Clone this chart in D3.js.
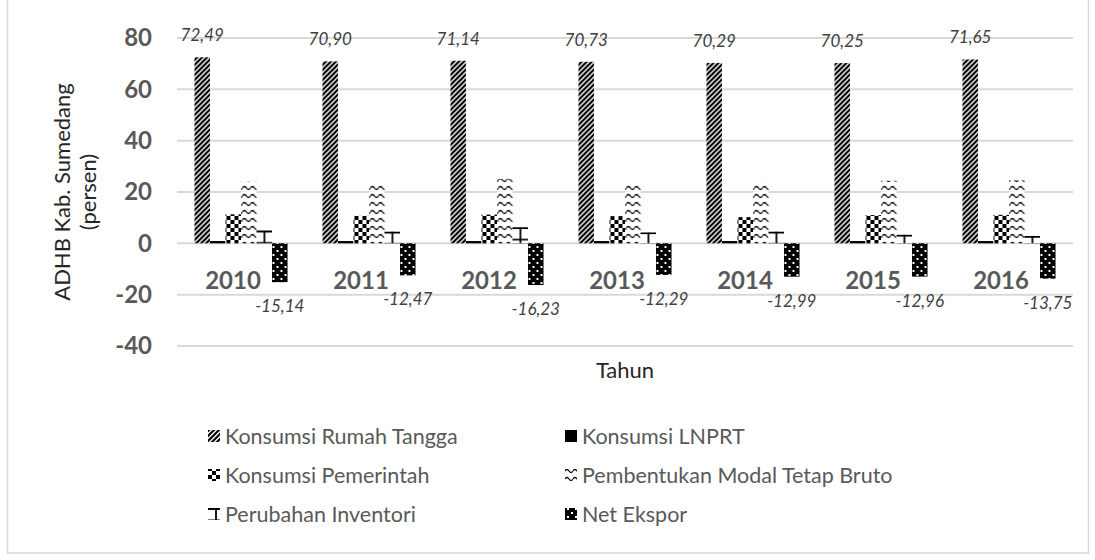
<!DOCTYPE html>
<html>
<head>
<meta charset="utf-8">
<script src="https://cdn.jsdelivr.net/npm/d3@7"></script>
<style>
  body { margin: 0; background: #fff; }
  svg { display: block; font-family: Lato, "Liberation Sans", sans-serif; }
</style>
</head>
<body>
<div id="vis"></div>
<script>
// data
const years = ["2010", "2011", "2012", "2013", "2014", "2015", "2016"];
const seriesNames = ["Konsumsi Rumah Tangga", "Konsumsi LNPRT", "Konsumsi Pemerintah",
  "Pembentukan Modal Tetap Bruto", "Perubahan Inventori", "Net Ekspor"];
const rumahTangga = [72.49, 70.90, 71.14, 70.73, 70.29, 70.25, 71.65];
const lnprt = [0.9, 0.9, 0.9, 0.9, 0.9, 0.9, 0.9];
const pemerintah = [11.3, 10.7, 11.2, 10.6, 10.2, 11.0, 11.1];
const pmtb = [24.0, 23.6, 25.1, 23.4, 23.9, 24.4, 24.6];
const inventori = [5.0, 4.6, 6.3, 4.3, 4.6, 3.4, 2.9];
const netEkspor = [-15.14, -12.47, -16.23, -12.29, -12.99, -12.96, -13.75];
const yTicks = [80, 60, 40, 20, 0, -20, -40];

const values = [rumahTangga, lnprt, pemerintah, pmtb, inventori, netEkspor];
const fills = ["url(#p-rt)", "#000", "url(#p-pem)", "url(#p-pmtb)", "url(#p-inv)", "url(#p-net)"];
const labelled = [0, 5];   // series that carry data labels

const width = 1095, height = 560;

const svg = d3.select("#vis").append("svg")
    .attr("width", width)
    .attr("height", height);

// fill patterns, mimicking the excel pattern fills
const defs = svg.append("defs");

const pRt = defs.append("pattern").attr("id", "p-rt")
    .attr("patternUnits", "userSpaceOnUse").attr("width", 5).attr("height", 5);
pRt.append("rect").attr("width", 5).attr("height", 5).attr("fill", "#fff");
pRt.append("path").attr("d", "M-1,1 l2,-2 M0,5 l5,-5 M4,6 l2,-2")
    .attr("stroke", "#000").attr("stroke-width", 2.2);

const pPem = defs.append("pattern").attr("id", "p-pem")
    .attr("patternUnits", "userSpaceOnUse").attr("width", 8).attr("height", 8);
pPem.append("rect").attr("width", 8).attr("height", 8).attr("fill", "#fff");
pPem.append("rect").attr("width", 4).attr("height", 4).attr("fill", "#000");
pPem.append("rect").attr("x", 4).attr("y", 4).attr("width", 4).attr("height", 4).attr("fill", "#000");

const pPmtb = defs.append("pattern").attr("id", "p-pmtb")
    .attr("patternUnits", "userSpaceOnUse").attr("width", 8).attr("height", 8);
pPmtb.append("rect").attr("width", 8).attr("height", 8).attr("fill", "#fff");
pPmtb.append("path").attr("d", "M0,4 q2,-3 4,0 t4,0")
    .attr("fill", "none").attr("stroke", "#000").attr("stroke-width", 1.3);

// large grid, one tile per bar so the lines start at the top of each bar
const pInv = defs.append("pattern").attr("id", "p-inv")
    .attr("patternUnits", "objectBoundingBox")
    .attr("x", 0).attr("y", 0).attr("width", 1).attr("height", 1);
pInv.append("rect").attr("width", 40).attr("height", 200).attr("fill", "#fff");
pInv.append("path").attr("d", "M0,1 H40 M0,12.5 H40 M0,24.5 H40 M8,0 V200")
    .attr("stroke", "#000").attr("stroke-width", 1.8);

const pNet = defs.append("pattern").attr("id", "p-net")
    .attr("patternUnits", "userSpaceOnUse").attr("width", 8).attr("height", 8);
pNet.append("rect").attr("width", 8).attr("height", 8).attr("fill", "#000");
pNet.append("rect").attr("x", 2).attr("y", 2).attr("width", 2).attr("height", 2).attr("fill", "#fff");
pNet.append("rect").attr("x", 6).attr("y", 6).attr("width", 2).attr("height", 2).attr("fill", "#fff");

// outer chart border
svg.append("rect")
    .attr("x", 7.5).attr("y", -5)
    .attr("width", 1081).attr("height", 558)
    .attr("fill", "none").attr("stroke", "#d9d9d9").attr("stroke-width", 1.5);

// scales
const x0 = d3.scaleBand().domain(years).range([177, 1073])
    .paddingInner(0.273).paddingOuter(0.1365);
const x1 = d3.scaleBand().domain(d3.range(seriesNames.length)).range([0, x0.bandwidth()]);
const y = d3.scaleLinear().domain([-40, 80]).range([346, 38]);

const fmt = v => v.toFixed(2).replace(".", ",");

// gridlines
svg.append("g")
  .selectAll("line")
  .data(yTicks)
  .join("line")
    .attr("x1", 177).attr("x2", 1073)
    .attr("y1", d => y(d)).attr("y2", d => y(d))
    .attr("stroke", "#d9d9d9").attr("stroke-width", 2);

// y axis labels
const yAxis = svg.append("g")
    .attr("transform", "translate(152,0)")
    .call(d3.axisLeft(y).tickValues(yTicks).tickSize(0).tickPadding(0).tickFormat(d => String(d)));
yAxis.select(".domain").remove();
yAxis.selectAll("text")
    .attr("font-family", "Lato, sans-serif")
    .attr("font-size", 24).attr("font-weight", "bold").attr("fill", "#595959");

// year labels, sitting just under the zero line
svg.append("g")
  .selectAll("text")
  .data(years)
  .join("text")
    .attr("x", d => x0(d) + x0.bandwidth() / 2 - 8)
    .attr("y", 281)
    .attr("dy", "0.35em")
    .attr("text-anchor", "middle")
    .attr("font-size", 24).attr("font-weight", "bold").attr("fill", "#595959")
    .text(d => d);

// bars
const group = svg.append("g")
  .selectAll("g")
  .data(years)
  .join("g")
    .attr("transform", d => `translate(${x0(d)},0)`);

group.selectAll("rect")
  .data((d, i) => values.map((s, k) => ({ k: k, v: s[i] })))
  .join("rect")
    .attr("x", d => x1(d.k))
    .attr("y", d => y(Math.max(0, d.v)))
    .attr("width", x1.bandwidth())
    .attr("height", d => Math.abs(y(d.v) - y(0)))
    .attr("fill", d => fills[d.k]);

// data labels for household consumption and net export
group.selectAll("text")
  .data((d, i) => labelled.map(k => ({ k: k, v: values[k][i] })))
  .join("text")
    .attr("x", d => x1(d.k) + x1.bandwidth() / 2)
    .attr("y", d => d.v > 0 ? y(d.v) - 22 : y(d.v) + 24)
    .attr("dy", "0.35em")
    .attr("text-anchor", "middle")
    .attr("font-size", 17).attr("font-style", "italic").attr("fill", "#404040")
    .text(d => fmt(d.v));

// axis titles
svg.append("text")
    .attr("x", 625).attr("y", 370).attr("dy", "0.35em")
    .attr("text-anchor", "middle")
    .attr("font-size", 22).attr("fill", "#262626")
    .text("Tahun");

const yTitle = svg.append("text")
    .attr("transform", "translate(75,192) rotate(-90)")
    .attr("text-anchor", "middle")
    .attr("font-size", 22).attr("fill", "#262626");
yTitle.append("tspan").attr("x", 0).attr("dy", "-0.25em").text("ADHB Kab. Sumedang");
yTitle.append("tspan").attr("x", 0).attr("dy", "1.2em").text("(persen)");

// legend, two columns
const legend = svg.append("g")
  .selectAll("g")
  .data(seriesNames)
  .join("g")
    .attr("transform", (d, i) => `translate(${i % 2 ? 565 : 208},${436 + Math.floor(i / 2) * 39})`);

legend.append("rect")
    .attr("x", 0).attr("y", -6)
    .attr("width", 12).attr("height", 12)
    .attr("fill", (d, i) => fills[i]);

legend.append("text")
    .attr("x", 17).attr("dy", "0.35em")
    .attr("font-size", 21.5).attr("fill", "#595959")
    .text(d => d);
</script>
</body>
</html>
